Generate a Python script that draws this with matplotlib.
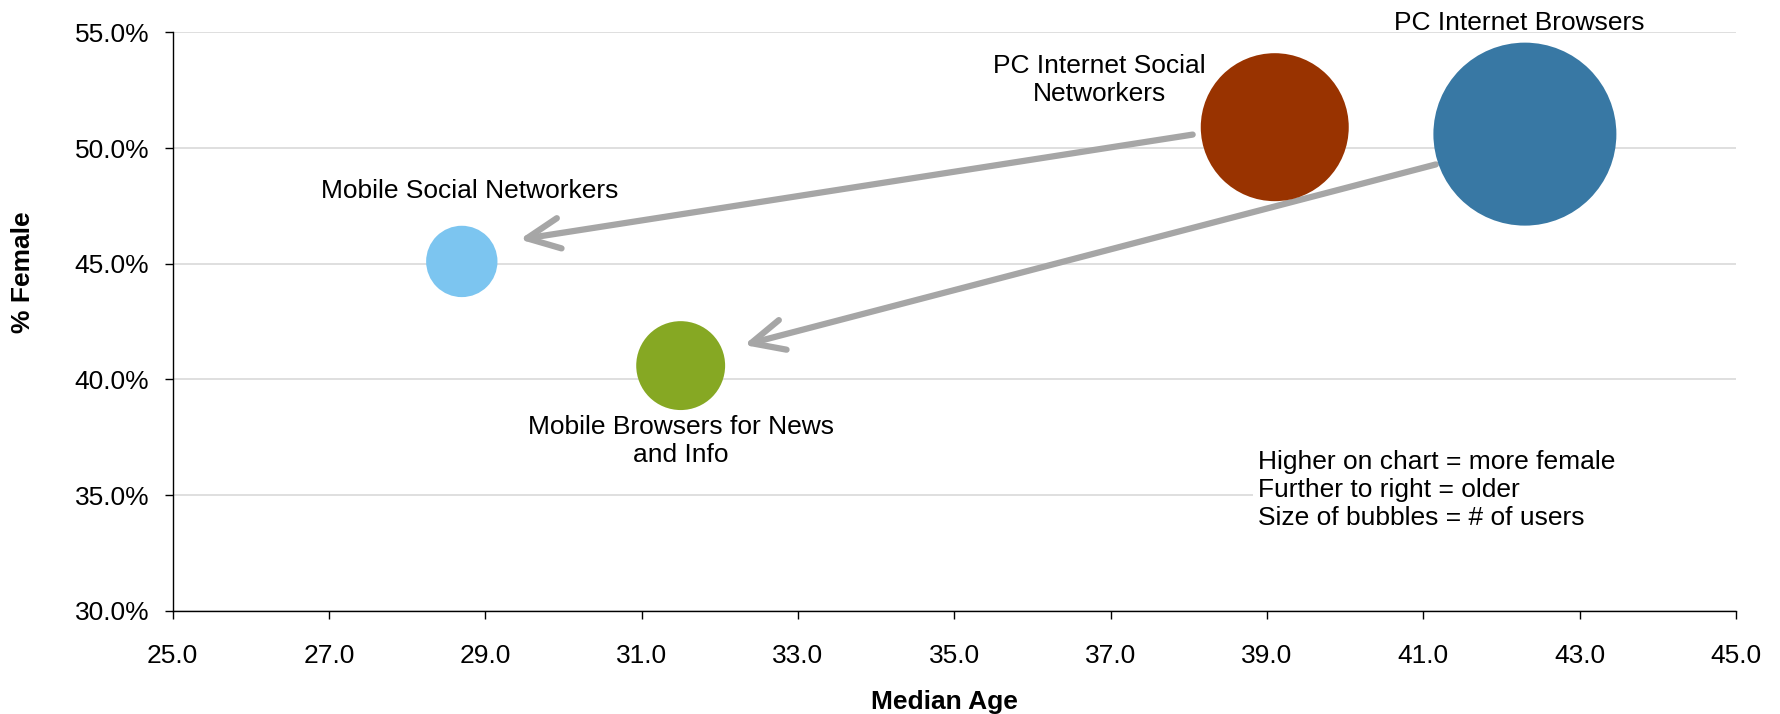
import matplotlib
matplotlib.use("Agg")
import matplotlib.pyplot as plt
from matplotlib.patches import Rectangle
from matplotlib.ticker import FuncFormatter, FixedLocator

plt.rcParams['font.family'] = ['Liberation Sans', 'DejaVu Sans']

# Audience segments: median age, share female (%), relative number of users
segments = ["Mobile Social Networkers", "Mobile Browsers for News\nand Info",
            "PC Internet Social\nNetworkers", "PC Internet Browsers"]
median_age = [28.7, 31.5, 39.1, 42.3]
pct_female = [45.1, 40.6, 50.9, 50.6]
users = [15.2, 23.6, 65.4, 100.0]
colors = ["#7CC5F0", "#86A823", "#993300", "#3878A4"]

x_ticks = [25, 27, 29, 31, 33, 35, 37, 39, 41, 43, 45]
y_ticks = [30, 35, 40, 45, 50, 55]

# label anchor points (data coords) for each segment
label_x = [28.8, 31.5, 36.86, 42.23]
label_y = [48.14, 37.35, 52.94, 55.41]

# migration arrows: PC audience -> mobile audience
arrows = [((38.05, 50.58), (29.44, 46.05)),
          ((41.16, 49.29), (32.31, 41.49))]

notes = "Higher on chart = more female\nFurther to right = older\nSize of bubbles = # of users"

FS = 19

fig = plt.figure(figsize=(17.81, 7.14), dpi=100)
ax = fig.add_axes([0.0969, 0.1443, 0.8778, 0.8105])

ax.set_xlim(25, 45)
ax.set_ylim(30, 55)
ax.xaxis.set_major_locator(FixedLocator(x_ticks))
ax.yaxis.set_major_locator(FixedLocator(y_ticks))
ax.xaxis.set_major_formatter(FuncFormatter(lambda v, p: f"{v:.1f}"))
ax.yaxis.set_major_formatter(FuncFormatter(lambda v, p: f"{v:.1f}%"))

ax.grid(axis='y', color='#D9D9D9', lw=1.2, zorder=0)
ax.set_axisbelow(True)
for s in ("top", "right"):
    ax.spines[s].set_visible(False)
for s in ("left", "bottom"):
    ax.spines[s].set_color("#000000")
    ax.spines[s].set_linewidth(1.0)
ax.tick_params(axis='both', direction='out', length=5.8, width=1.0,
               labelsize=FS, colors='black')
ax.tick_params(axis='y', pad=11)
ax.tick_params(axis='x', pad=18)

# white panel behind the explanatory notes
ax.add_patch(Rectangle((0.691, 0.131), 0.309, 0.165, transform=ax.transAxes,
                       facecolor='white', edgecolor='none', zorder=1))
ax.text(38.89, 35.22, notes, fontsize=FS, ha='left', va='center',
        linespacing=1.2, zorder=5)

# arrows
for (x0, y0), (x1, y1) in arrows:
    ax.annotate("", xy=(x1, y1), xytext=(x0, y0),
                arrowprops=dict(arrowstyle="->,head_length=0.47,head_width=0.22",
                                mutation_scale=50, lw=4.5, color="#A6A6A6",
                                shrinkA=0, shrinkB=0, capstyle='round',
                                joinstyle='round'),
                zorder=3)

# bubbles
sizes = [u * 173.6 for u in users]
ax.scatter(median_age, pct_female, s=sizes, c=colors, edgecolors='none',
           zorder=4, clip_on=False)

for name, lx, ly in zip(segments, label_x, label_y):
    ax.text(lx, ly, name, fontsize=FS, ha='center', va='center',
            multialignment='center', linespacing=1.22, zorder=5)

fig.text(23.3 / 1781, 1 - 272 / 714, "% Female", rotation=90, fontsize=FS,
         fontweight='bold', ha='center', va='center')
fig.text(944 / 1781, 1 - 702 / 714, "Median Age", fontsize=FS,
         fontweight='bold', ha='center', va='center')

fig.savefig("out.png", dpi=100, facecolor='white')
